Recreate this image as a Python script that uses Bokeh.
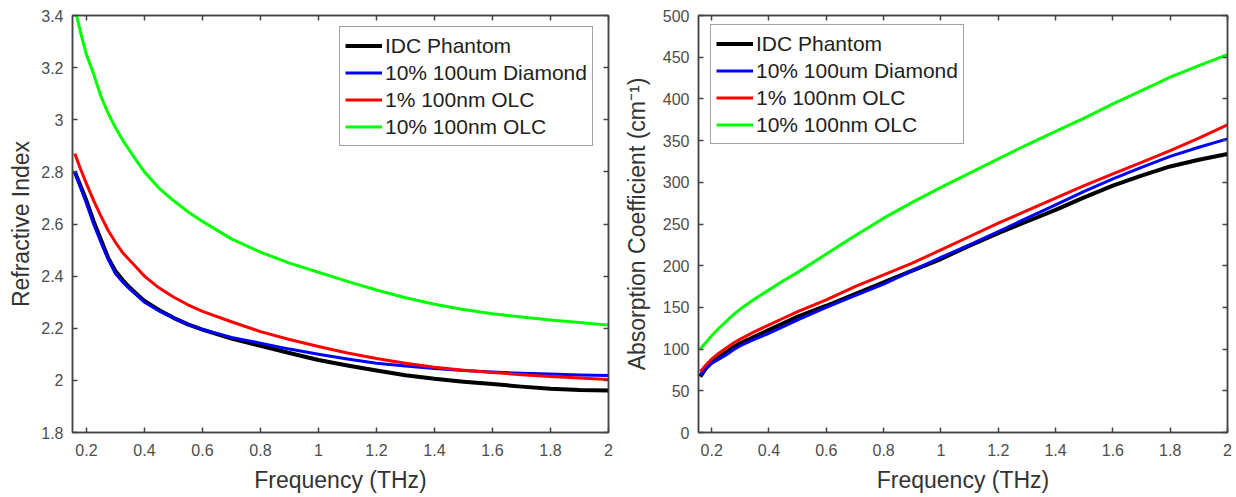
from bokeh.plotting import figure
from bokeh.layouts import row
from bokeh.models import LinearAxis, FixedTicker, CustomJSTickFormatter, Legend, LegendItem, Range1d
from bokeh.embed import file_html
from bokeh.resources import INLINE

# ---------------- data ----------------
series_names = ["IDC Phantom", "10% 100um Diamond", "1% 100nm OLC", "10% 100nm OLC"]
series_colors = ["#000000", "#0000ff", "#ff0000", "#00ff00"]
series_widths = [4, 3, 3, 3]

freq_n = [0.16, 0.18, 0.2, 0.225, 0.25, 0.275, 0.3, 0.325, 0.35, 0.375, 0.4, 0.45, 0.5, 0.55, 0.6,
          0.7, 0.8, 0.9, 1.0, 1.1, 1.2, 1.3, 1.4, 1.5, 1.6, 1.7, 1.8, 1.9, 2.0]
n_idc     = [2.80, 2.745, 2.69, 2.61, 2.54, 2.47, 2.42, 2.385, 2.355, 2.33, 2.305, 2.27, 2.24, 2.215, 2.195,
             2.16, 2.133, 2.105, 2.078, 2.057, 2.038, 2.02, 2.006, 1.995, 1.986, 1.976, 1.968, 1.963, 1.961]
n_diamond = [2.80, 2.74, 2.68, 2.60, 2.53, 2.465, 2.41, 2.377, 2.35, 2.325, 2.30, 2.267, 2.24, 2.215, 2.195,
             2.165, 2.143, 2.12, 2.10, 2.082, 2.066, 2.055, 2.046, 2.038, 2.032, 2.027, 2.024, 2.021, 2.019]
n_olc1    = [2.87, 2.81, 2.755, 2.69, 2.63, 2.575, 2.53, 2.49, 2.46, 2.43, 2.40, 2.355, 2.32, 2.29, 2.265,
             2.225, 2.187, 2.157, 2.13, 2.105, 2.084, 2.066, 2.05, 2.039, 2.03, 2.022, 2.015, 2.009, 2.003]
n_olc10   = [3.43, 3.334, 3.25, 3.175, 3.09, 3.025, 2.97, 2.922, 2.88, 2.839, 2.80, 2.738, 2.69, 2.647, 2.61,
             2.543, 2.492, 2.45, 2.415, 2.38, 2.347, 2.317, 2.292, 2.272, 2.256, 2.243, 2.232, 2.222, 2.212]

freq_a = [0.16, 0.18, 0.2, 0.225, 0.25, 0.275, 0.3, 0.35, 0.4, 0.45, 0.5, 0.6, 0.7, 0.8, 0.9,
          1.0, 1.1, 1.2, 1.3, 1.4, 1.5, 1.6, 1.7, 1.8, 1.9, 2.0]
a_idc     = [67, 77, 84, 90, 96, 102, 107, 115, 123, 131, 139, 152, 166, 180, 194,
             208, 224, 239, 253, 267, 282, 296, 308, 319, 327, 334]
a_diamond = [69, 77, 83, 88, 93, 99, 104, 112, 119, 127, 135, 150, 164, 178, 194,
             210, 225, 241, 257, 273, 289, 304, 318, 331, 342, 352]
a_olc1    = [73, 81, 88, 95, 101, 107, 112, 121, 129, 137, 145, 159, 175, 189, 203,
             219, 235, 251, 266, 281, 296, 310, 324, 338, 353, 369]
a_olc10   = [100, 108, 116, 125, 133, 141, 148, 160, 171, 182, 192, 214, 236, 257, 276,
             294, 311, 328, 345, 361, 377, 394, 410, 426, 440, 453]

x_ticks = [0.2, 0.4, 0.6, 0.8, 1.0, 1.2, 1.4, 1.6, 1.8, 2.0]
n_ticks = [1.8, 2.0, 2.2, 2.4, 2.6, 2.8, 3.0, 3.2, 3.4]
a_ticks = [0, 50, 100, 150, 200, 250, 300, 350, 400, 450, 500]

FONT = "Liberation Sans"
AXC = "#454545"
TXC = "#4d4d4d"
LBC = "#333333"

fmt = CustomJSTickFormatter(code="return Number(tick.toFixed(3)).toString();")
blank = CustomJSTickFormatter(code="return '';")


def style_axis(ax, ticks, show_labels=True):
    ax.ticker = FixedTicker(ticks=ticks)
    ax.major_tick_in = 5
    ax.major_tick_out = 0
    ax.minor_tick_line_color = None
    ax.axis_line_color = AXC
    ax.axis_line_width = 1.5
    ax.major_tick_line_color = AXC
    ax.major_tick_line_width = 1.5
    if show_labels:
        ax.formatter = fmt
        ax.major_label_text_font = FONT
        ax.major_label_text_font_size = "16px"
        ax.major_label_text_color = TXC
        ax.axis_label_text_font = FONT
        ax.axis_label_text_font_size = "23px"
        ax.axis_label_text_font_style = "normal"
        ax.axis_label_text_color = LBC
    else:
        ax.formatter = blank
        ax.major_label_text_font_size = "1px"
        ax.major_label_standoff = 0


def make_panel(xs, ys_list, xr, yr, yticks, ylabel, ylabel_standoff, width, height, borders, legend_loc):
    bl, br, bt, bb = borders
    p = figure(width=width, height=height, output_backend="svg", toolbar_location=None,
               x_range=Range1d(*xr), y_range=Range1d(*yr),
               min_border_left=bl, min_border_right=br, min_border_top=bt, min_border_bottom=bb)
    p.grid.visible = False
    p.outline_line_color = AXC
    p.outline_line_width = 1.5
    p.background_fill_color = "white"
    p.border_fill_color = "white"

    style_axis(p.xaxis[0], x_ticks)
    style_axis(p.yaxis[0], yticks)
    p.xaxis[0].axis_label = "Frequency (THz)"
    p.yaxis[0].axis_label = ylabel
    p.xaxis[0].major_label_standoff = 11
    p.xaxis[0].axis_label_standoff = 8
    p.yaxis[0].major_label_standoff = 9
    p.yaxis[0].axis_label_standoff = ylabel_standoff

    top = LinearAxis()
    style_axis(top, x_ticks, show_labels=False)
    p.add_layout(top, "above")
    right = LinearAxis()
    style_axis(right, yticks, show_labels=False)
    p.add_layout(right, "right")

    items = []
    for name, color, lw, ys in zip(series_names, series_colors, series_widths, ys_list):
        r = p.line(xs, ys, line_color=color, line_width=lw, line_join="round")
        items.append(LegendItem(label=name, renderers=[r]))

    leg = Legend(items=items, location=legend_loc)
    leg.label_text_font = FONT
    leg.label_text_font_size = "21px"
    leg.label_text_color = "#222222"
    leg.glyph_width = 37
    leg.glyph_height = 27
    leg.label_height = 27
    leg.label_standoff = 3
    leg.spacing = 0
    leg.padding = 5
    leg.margin = 0
    leg.border_line_color = AXC
    leg.border_line_width = 1.2
    leg.background_fill_color = "white"
    leg.background_fill_alpha = 1.0
    p.add_layout(leg, "center")
    return p


p1 = make_panel(freq_n, [n_idc, n_diamond, n_olc1, n_olc10], (0.152, 2.0), (1.8, 3.4), n_ticks,
                "Refractive Index", 4, 620, 497, (72, 12, 13, 65), (267, 286))
p2 = make_panel(freq_a, [a_idc, a_diamond, a_olc1, a_olc10], (0.154, 2.0), (0, 500), a_ticks,
                "Absorption Coefficient (cm\u207b\u00b9)", 10, 616, 497, (73, 9, 15, 64), (12, 288))

layout = row(p1, p2)
open("out.html", "w").write(file_html(layout, INLINE))
